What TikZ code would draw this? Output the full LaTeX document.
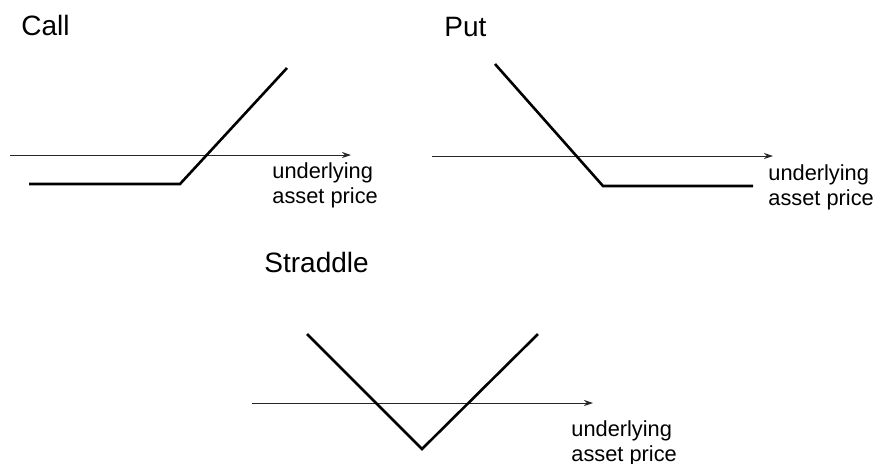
\documentclass[tikz,border=0pt]{standalone}
\usepackage{fontspec}
\setmainfont{Liberation Sans}
\usetikzlibrary{arrows.meta,positioning}

\begin{document}
\begin{tikzpicture}[x=0.5pt, y=-0.5pt, every node/.style={inner sep=0pt},
  title/.style={anchor=base west, font=\fontsize{14}{16}\selectfont},
  axislabel/.style={anchor=north west, align=left, font=\fontsize{10.9}{12.4}\selectfont},
  axis/.style={-{Stealth[length=4.5pt,width=3pt]}, line width=0.5pt, black!85},
  payoff/.style={line width=1.3pt, line join=miter}]
\useasboundingbox (0,0) rectangle (879,463);

% Call
\node[title] (calltitle) at (21,35) {Call};
\coordinate (ca1) at (10,155);
\coordinate (ca2) at (351,155);
\draw[axis] (ca1) -- (ca2);
\coordinate (c1) at (29,184);
\coordinate (c2) at (180,184);
\coordinate (c3) at (287,68);
\draw[payoff] (c1) -- (c2) -- (c3);
\node[axislabel] (calllabel) at (272,162) {underlying\\asset price};

% Put
\node[title] (puttitle) at (444,36) {Put};
\coordinate (pa1) at (432,156);
\coordinate (pa2) at (773,156);
\draw[axis] (pa1) -- (pa2);
\coordinate (p1) at (495,64);
\coordinate (p2) at (603,186);
\coordinate (p3) at (753,186);
\draw[payoff] (p1) -- (p2) -- (p3);
\node[axislabel] (putlabel) at (768,164) {underlying\\asset price};

% Straddle
\node[title] (stitle) at (264,272) {Straddle};
\coordinate (sa1) at (252,403);
\coordinate (sa2) at (593,403);
\draw[axis] (sa1) -- (sa2);
\coordinate (s1) at (307,334);
\coordinate (s2) at (422,449);
\coordinate (s3) at (538,334);
\draw[payoff] (s1) -- (s2) -- (s3);
\node[axislabel] (slabel) at (571,420) {underlying\\asset price};
\end{tikzpicture}
\end{document}
